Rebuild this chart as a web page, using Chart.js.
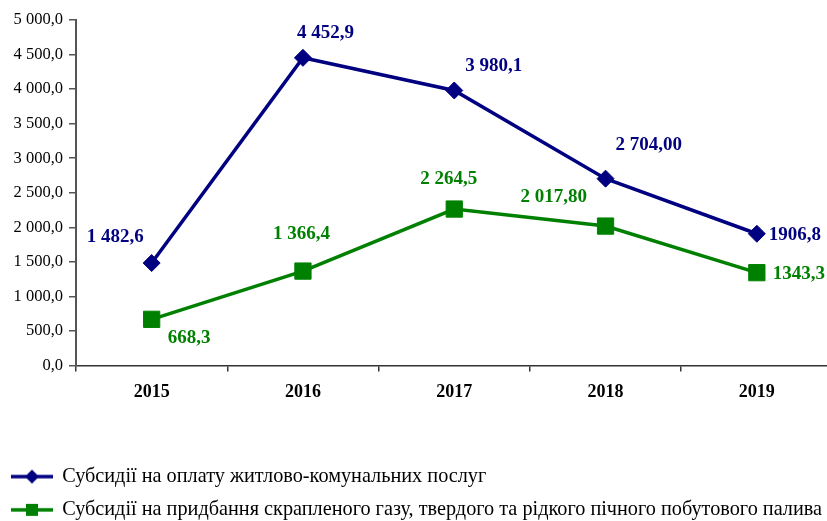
<!DOCTYPE html>
<html><head><meta charset="utf-8">
<script src="https://cdn.jsdelivr.net/npm/chart.js@4.4.1/dist/chart.umd.min.js"></script>
<style>html,body{margin:0;padding:0;overflow:hidden;background:#fff;width:827px;height:521px}canvas{display:block}</style>
</head><body>
<canvas id="c" width="845" height="530"></canvas>
<script>
// ---- data ----
const categories = ['2015', '2016', '2017', '2018', '2019'];
const housingSubsidies = [1482.6, 4452.9, 3980.1, 2704.0, 1906.8];
const fuelSubsidies = [668.3, 1366.4, 2264.5, 2017.8, 1343.3];
const housingLabels = ['1 482,6', '4 452,9', '3 980,1', '2 704,00', '1906,8'];
const fuelLabels = ['668,3', '1 366,4', '2 264,5', '2 017,80', '1343,3'];
const yTickLabels = ['0,0', '500,0', '1 000,0', '1 500,0', '2 000,0', '2 500,0', '3 000,0', '3 500,0', '4 000,0', '4 500,0', '5 000,0'];
const seriesNames = ['Субсидії на оплату житлово-комунальних послуг',
  'Субсидії на придбання скрапленого газу, твердого та рідкого пічного побутового палива'];

// ---- label placement (offsets from the point, px) ----
const housingOffsets = [[-65, -26], [-6, -25], [11, -24], [10, -34], [12, 1]];
const fuelOffsets = [[16, 19], [-30, -37], [-34, -30], [-85, -29], [16, 1]];

const BLUE = '#000080', GREEN = '#008000';
const FONT = "'Liberation Serif', 'Times New Roman', serif";

function legendIcon(color, shape) {
  const c = document.createElement('canvas');
  c.width = 42; c.height = 18;
  const g = c.getContext('2d');
  g.strokeStyle = color; g.fillStyle = color; g.lineWidth = 3.5;
  g.beginPath(); g.moveTo(0, 9); g.lineTo(42, 9); g.stroke();
  g.beginPath();
  if (shape === 'diamond') {
    g.moveTo(21, 2); g.lineTo(28, 9); g.lineTo(21, 16); g.lineTo(14, 9); g.closePath();
  } else {
    g.rect(15, 3, 12, 12);
  }
  g.fill();
  return c;
}

const labelPlugin = {
  id: 'valueLabels',
  afterDatasetsDraw(chart) {
    const ctx = chart.ctx;
    const sets = [[housingLabels, housingOffsets, BLUE], [fuelLabels, fuelOffsets, GREEN]];
    ctx.save();
    ctx.font = "bold 19px " + FONT;
    ctx.textAlign = 'left';
    ctx.textBaseline = 'middle';
    sets.forEach(([labels, offs, color], di) => {
      const meta = chart.getDatasetMeta(di);
      ctx.fillStyle = color;
      meta.data.forEach((pt, i) => {
        ctx.fillText(labels[i], pt.x + offs[i][0], pt.y + offs[i][1]);
      });
    });
    ctx.restore();
  }
};

new Chart(document.getElementById('c'), {
  type: 'line',
  data: {
    labels: categories,
    datasets: [
      {
        label: seriesNames[0], data: housingSubsidies,
        borderColor: BLUE, backgroundColor: BLUE, borderWidth: 3.5,
        pointStyle: 'rectRot', pointRadius: 8.5, pointBorderWidth: 1,
        pointBackgroundColor: BLUE, pointBorderColor: BLUE, tension: 0
      },
      {
        label: seriesNames[1], data: fuelSubsidies,
        borderColor: GREEN, backgroundColor: GREEN, borderWidth: 3.5,
        pointStyle: 'rect', pointRadius: 11.5, pointBorderWidth: 1,
        pointBackgroundColor: GREEN, pointBorderColor: GREEN, tension: 0
      }
    ]
  },
  options: {
    responsive: false, animation: false, devicePixelRatio: 1,
    layout: { padding: { left: -1, top: 20, right: 0, bottom: 0 } },
    plugins: {
      tooltip: { enabled: false },
      legend: {
        position: 'bottom', align: 'start',
        labels: {
          usePointStyle: true, pointStyleWidth: 40, padding: 13,
          color: '#000', font: { family: FONT, size: 20.25 },
          generateLabels(chart) {
            return chart.data.datasets.map((ds, i) => ({
              text: ds.label, datasetIndex: i, fontColor: '#000',
              pointStyle: legendIcon(ds.borderColor, i === 0 ? 'diamond' : 'square'),
              fillStyle: ds.borderColor, strokeStyle: ds.borderColor, lineWidth: 0, hidden: false
            }));
          }
        }
      }
    },
    scales: {
      x: {
        offset: true,
        grid: { offset: true, drawOnChartArea: false, drawTicks: true, tickLength: 6, tickColor: '#333', lineWidth: 1.5 },
        border: { color: '#333', width: 1.5 },
        ticks: { color: '#000', font: { family: FONT, size: 18, weight: 'bold' }, padding: 10, maxRotation: 0 },
        afterFit(s) { s.height = 88; }
      },
      y: {
        min: 0, max: 5000,
        grid: { drawOnChartArea: false, drawTicks: true, tickLength: 7, tickColor: '#555', lineWidth: 1.5 },
        border: { color: '#555', width: 2 },
        ticks: {
          stepSize: 500, color: '#000', padding: 6,
          font: { family: FONT, size: 16.5 },
          callback: (v, i) => yTickLabels[i]
        },
        afterFit(s) { s.width = 77; }
      }
    }
  },
  plugins: [labelPlugin]
});
</script>
</body></html>
